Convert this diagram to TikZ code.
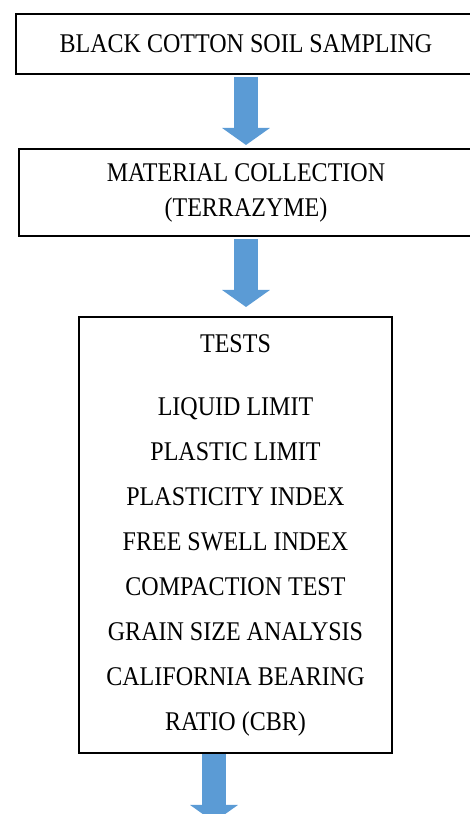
\documentclass[tikz,border=0pt]{standalone}
\usepackage{fontspec}
\setmainfont{Liberation Serif}[FakeStretch=0.89]
\usepackage{xcolor}
\usepackage{tikz}
\usetikzlibrary{positioning, arrows.meta, calc}
\definecolor{flowblue}{HTML}{5B9BD5}

\tikzset{
  stepbox/.style={draw=black, line width=2.2pt, inner sep=0pt, outer sep=0pt,
    align=center, font=\fontsize{27}{35}\selectfont},
  flowarrow/.style={draw=flowblue, line width=24pt,
    -{Triangle[width=47pt, length=17pt]}},
}

\begin{document}
\begin{tikzpicture}[x=1pt, y=1pt]
    \useasboundingbox (0,0) rectangle (469,814);

    \node[stepbox, minimum width=460pt, minimum height=60pt] (sampling) at (246,770)
      {BLACK COTTON SOIL SAMPLING};
    \node[stepbox, minimum width=454pt, minimum height=87pt,
          below=75pt of sampling] (collection)
      {MATERIAL COLLECTION\\(TERRAZYME)};
    \node[stepbox, minimum width=313pt, minimum height=436pt,
          font=\fontsize{27}{45}\selectfont,
          below=81pt of collection, xshift=-10.5pt] (tests)
      {TESTS\\[18pt]
       LIQUID LIMIT\\
       PLASTIC LIMIT\\
       PLASTICITY INDEX\\
       FREE SWELL INDEX\\
       COMPACTION TEST\\
       GRAIN SIZE ANALYSIS\\
       CALIFORNIA BEARING\\
       RATIO (CBR)};

    % arrows between the steps
    \coordinate (next) at ([xshift=-21.5pt, yshift=-69pt]tests.south);
    \draw[flowarrow] ([yshift=-3pt]sampling.south) -- ([yshift=4pt]collection.north);
    \draw[flowarrow] ([yshift=-3pt]collection.south) -- ([yshift=10pt]collection.south |- tests.north);
    \draw[flowarrow] ([xshift=-21.5pt, yshift=-1.5pt]tests.south) -- (next);
  \end{tikzpicture}
\end{document}
